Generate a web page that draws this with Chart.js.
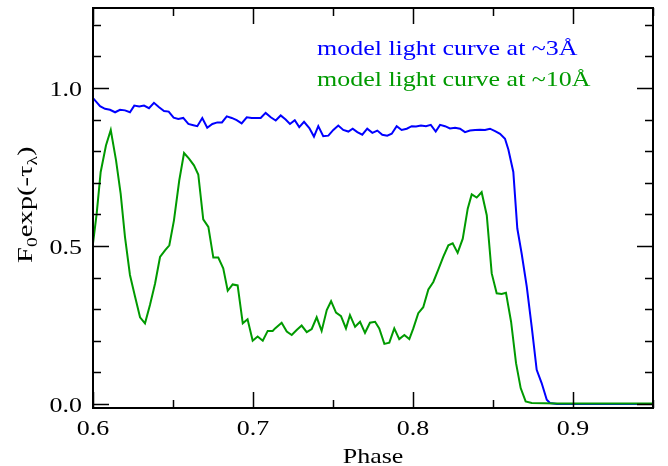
<!DOCTYPE html>
<html>
<head>
<meta charset="utf-8">
<script src="https://cdn.jsdelivr.net/npm/chart.js@4.4.0/dist/chart.umd.min.js"></script>
<style>
  html, body { margin: 0; padding: 0; background: #fff; }
</style>
</head>
<body>
<canvas id="lightCurveChart" width="668" height="466"></canvas>
<script>
// Model light curve at ~3A (blue)
const bluePhase = [
    0.6000, 0.6044, 0.6075, 0.6106, 0.6138, 0.6169, 0.6200, 0.6231, 0.6258, 0.6289,
    0.6319, 0.6350, 0.6381, 0.6413, 0.6444, 0.6473, 0.6504, 0.6533, 0.6564, 0.6596,
    0.6627, 0.6652, 0.6683, 0.6714, 0.6746, 0.6777, 0.6806, 0.6836, 0.6867, 0.6898,
    0.6929, 0.6961, 0.6992, 0.7023, 0.7048, 0.7079, 0.7111, 0.7142, 0.7173, 0.7204,
    0.7231, 0.7261, 0.7289, 0.7319, 0.7352, 0.7381, 0.7408, 0.7439, 0.7471, 0.7502,
    0.7533, 0.7564, 0.7596, 0.7623, 0.7652, 0.7683, 0.7714, 0.7746, 0.7777, 0.7808,
    0.7839, 0.7867, 0.7898, 0.7929, 0.7961, 0.7992, 0.8019, 0.8050, 0.8081, 0.8111,
    0.8142, 0.8169, 0.8200, 0.8231, 0.8263, 0.8294, 0.8325, 0.8356, 0.8388, 0.8419,
    0.8450, 0.8481, 0.8513, 0.8544, 0.8575, 0.8596, 0.8627, 0.8652, 0.8679, 0.8711,
    0.8742, 0.8773, 0.8804, 0.8836, 0.8856, 0.8900, 0.9500
];
const blueFlux = [
    0.968, 0.942, 0.934, 0.931, 0.923, 0.931, 0.929, 0.923, 0.944, 0.941,
    0.944, 0.936, 0.953, 0.939, 0.927, 0.925, 0.906, 0.902, 0.905, 0.886,
    0.882, 0.879, 0.905, 0.874, 0.886, 0.891, 0.891, 0.910, 0.905, 0.898,
    0.888, 0.907, 0.905, 0.905, 0.905, 0.921, 0.907, 0.897, 0.913, 0.900,
    0.886, 0.898, 0.876, 0.893, 0.873, 0.846, 0.879, 0.847, 0.849, 0.867,
    0.881, 0.867, 0.862, 0.871, 0.860, 0.852, 0.871, 0.858, 0.865, 0.852,
    0.849, 0.855, 0.879, 0.867, 0.871, 0.879, 0.878, 0.881, 0.879, 0.883,
    0.862, 0.883, 0.879, 0.872, 0.874, 0.871, 0.860, 0.865, 0.867, 0.868,
    0.867, 0.871, 0.863, 0.855, 0.839, 0.805, 0.734, 0.555, 0.476, 0.371,
    0.244, 0.108, 0.066, 0.013, 0.003, 0.000, 0.000
];

// Model light curve at ~10A (green)
const greenPhase = [
    0.6000, 0.6023, 0.6048, 0.6081, 0.6111, 0.6144, 0.6173, 0.6200, 0.6231, 0.6263,
    0.6294, 0.6325, 0.6356, 0.6388, 0.6419, 0.6450, 0.6477, 0.6506, 0.6539, 0.6569,
    0.6600, 0.6631, 0.6658, 0.6689, 0.6721, 0.6752, 0.6783, 0.6814, 0.6842, 0.6873,
    0.6904, 0.6936, 0.6966, 0.6998, 0.7029, 0.7061, 0.7092, 0.7123, 0.7138, 0.7179,
    0.7211, 0.7242, 0.7273, 0.7304, 0.7336, 0.7367, 0.7398, 0.7429, 0.7461, 0.7488,
    0.7519, 0.7550, 0.7581, 0.7606, 0.7638, 0.7669, 0.7700, 0.7731, 0.7763, 0.7789,
    0.7821, 0.7852, 0.7883, 0.7914, 0.7946, 0.7977, 0.8002, 0.8033, 0.8064, 0.8096,
    0.8127, 0.8158, 0.8189, 0.8221, 0.8248, 0.8279, 0.8311, 0.8342, 0.8367, 0.8398,
    0.8429, 0.8461, 0.8492, 0.8523, 0.8554, 0.8581, 0.8613, 0.8644, 0.8673, 0.8704,
    0.8742, 0.8900, 0.9500
];
const greenFlux = [
    0.508, 0.602, 0.734, 0.818, 0.867, 0.771, 0.665, 0.528, 0.408, 0.339,
    0.274, 0.255, 0.313, 0.381, 0.465, 0.486, 0.502, 0.581, 0.707, 0.794,
    0.776, 0.755, 0.726, 0.584, 0.560, 0.463, 0.463, 0.429, 0.358, 0.378,
    0.375, 0.255, 0.268, 0.200, 0.213, 0.200, 0.231, 0.231, 0.239, 0.257,
    0.229, 0.218, 0.234, 0.248, 0.227, 0.237, 0.274, 0.231, 0.297, 0.325,
    0.289, 0.278, 0.239, 0.281, 0.244, 0.260, 0.225, 0.257, 0.260, 0.239,
    0.190, 0.194, 0.239, 0.205, 0.218, 0.205, 0.239, 0.287, 0.306, 0.362,
    0.386, 0.425, 0.465, 0.502, 0.508, 0.478, 0.523, 0.618, 0.663, 0.653,
    0.670, 0.597, 0.413, 0.350, 0.348, 0.352, 0.260, 0.129, 0.050, 0.008,
    0.003, 0.001, 0.001
];

// Axis ticks
const xTickValues = [0.6, 0.65, 0.7, 0.75, 0.8, 0.85, 0.9, 0.95];
const xTickLabels = ['0.6', '', '0.7', '', '0.8', '', '0.9', ''];
const yTickValues = [0, 0.1, 0.2, 0.3, 0.4, 0.5, 0.6, 0.7, 0.8, 0.9, 1.0, 1.1, 1.2];
const yTickLabels = ['0.0', '', '', '', '', '0.5', '', '', '', '', '1.0', '', ''];

const BLUE = '#0000ff';
const GREEN = '#009a00';
const SERIF = "'Liberation Serif', 'DejaVu Serif', serif";
const WIDEN = 1.18; // the original serif face is wider than Liberation Serif

function toPoints(xs, ys) {
    return xs.map((x, i) => ({ x: x, y: ys[i] }));
}

// Draw text stretched horizontally by sx
function wideText(ctx, text, x, y, align, sx) {
    ctx.save();
    ctx.translate(x, y);
    ctx.scale(sx, 1);
    ctx.textAlign = align;
    ctx.fillText(text, 0, 0);
    ctx.restore();
}

// Box frame, inward ticks on all four sides, tick labels, legend text and axis titles
const framePlugin = {
    id: 'framePlugin',
    afterDatasetsDraw(chart) {
        const ctx = chart.ctx;
        const area = chart.chartArea;
        const xs = chart.scales.x;
        const ys = chart.scales.y;
        ctx.save();
        ctx.strokeStyle = '#000';
        ctx.fillStyle = '#000';
        ctx.textBaseline = 'alphabetic';

        // ticks
        ctx.lineWidth = 1.5;
        ctx.beginPath();
        xTickValues.forEach((v, i) => {
            const px = Math.round(xs.getPixelForValue(v)) + 0.5;
            const len = xTickLabels[i] !== '' ? 16 : 8;
            ctx.moveTo(px, area.bottom);
            ctx.lineTo(px, area.bottom - len);
            ctx.moveTo(px, area.top);
            ctx.lineTo(px, area.top + len);
        });
        yTickValues.forEach((v, i) => {
            const py = Math.round(ys.getPixelForValue(v)) + 0.5;
            const len = yTickLabels[i] !== '' ? 16 : 8;
            ctx.moveTo(area.left, py);
            ctx.lineTo(area.left + len, py);
            ctx.moveTo(area.right, py);
            ctx.lineTo(area.right - len, py);
        });
        ctx.stroke();

        // frame
        ctx.lineWidth = 2;
        ctx.strokeRect(area.left, area.top, area.right - area.left, area.bottom - area.top);

        // tick labels
        ctx.font = '22px ' + SERIF;
        xTickValues.forEach((v, i) => {
            if (xTickLabels[i]) {
                wideText(ctx, xTickLabels[i], xs.getPixelForValue(v), 435, 'center', WIDEN);
            }
        });
        yTickValues.forEach((v, i) => {
            if (yTickLabels[i]) {
                wideText(ctx, yTickLabels[i], 82, ys.getPixelForValue(v) + 8, 'right', WIDEN);
            }
        });

        // legend text
        ctx.font = '22px ' + SERIF;
        ctx.fillStyle = BLUE;
        wideText(ctx, 'model light curve at ~3Å', 317, 55, 'left', WIDEN);
        ctx.fillStyle = GREEN;
        wideText(ctx, 'model light curve at ~10Å', 317, 86, 'left', WIDEN);

        // x title
        ctx.fillStyle = '#000';
        ctx.font = '22px ' + SERIF;
        wideText(ctx, 'Phase', (area.left + area.right) / 2, 463, 'center', WIDEN);

        // y title with subscripts, rotated
        ctx.translate(32, 263);
        ctx.rotate(-Math.PI / 2);
        ctx.scale(1.3, 1);
        ctx.textAlign = 'left';
        const big = '22px ' + SERIF;
        const small = '15px ' + SERIF;
        const parts = [
            { t: 'F', f: big, dy: 0 },
            { t: '0', f: small, dy: 5 },
            { t: 'exp(-τ', f: big, dy: 0 },
            { t: 'λ', f: small, dy: 5 },
            { t: ')', f: big, dy: 0 }
        ];
        let x = 0;
        parts.forEach(p => {
            ctx.font = p.f;
            ctx.fillText(p.t, x, p.dy);
            x += ctx.measureText(p.t).width;
        });
        ctx.restore();
    }
};

const ctx = document.getElementById('lightCurveChart').getContext('2d');
new Chart(ctx, {
    type: 'line',
    data: {
        datasets: [
            {
                label: 'model light curve at ~10Å',
                data: toPoints(greenPhase, greenFlux),
                borderColor: GREEN,
                borderWidth: 2,
                pointRadius: 0,
                tension: 0,
                fill: false,
                order: 0
            },
            {
                label: 'model light curve at ~3Å',
                data: toPoints(bluePhase, blueFlux),
                borderColor: BLUE,
                borderWidth: 2,
                pointRadius: 0,
                tension: 0,
                fill: false,
                order: 1
            }
        ]
    },
    options: {
        responsive: false,
        animation: false,
        devicePixelRatio: 1,
        layout: {
            padding: { left: 0, right: 15, top: 8, bottom: 0 }
        },
        plugins: {
            legend: { display: false },
            tooltip: { enabled: false }
        },
        scales: {
            x: {
                type: 'linear',
                min: 0.6,
                max: 0.95,
                afterBuildTicks: scale => {
                    scale.ticks = xTickValues.map(v => ({ value: v }));
                },
                afterFit: scale => {
                    scale.height = 58;
                },
                ticks: { display: false },
                grid: { display: false, drawTicks: false },
                border: { display: false }
            },
            y: {
                type: 'linear',
                min: -0.013,
                max: 1.253,
                afterBuildTicks: scale => {
                    scale.ticks = yTickValues.map(v => ({ value: v }));
                },
                afterFit: scale => {
                    scale.width = 93;
                },
                ticks: { display: false },
                grid: { display: false, drawTicks: false },
                border: { display: false }
            }
        }
    },
    plugins: [framePlugin]
});
</script>
</body>
</html>
